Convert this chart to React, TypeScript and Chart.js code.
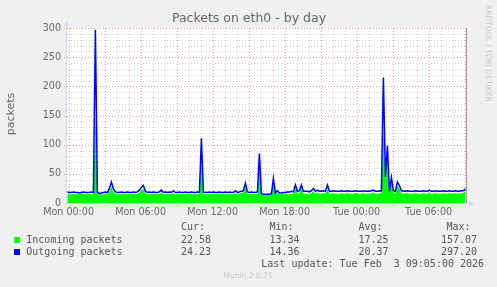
import { useEffect, useRef } from "react";
import { Chart, registerables } from "chart.js";

Chart.register(...registerables);

// ---- data (10-minute samples, packets/s) ----
const startHour = -0.1; // first sample, hours relative to Mon 00:00
const stepHours = 1 / 6;

const outgoing = [
  19, 18, 18, 19, 18, 18, 17, 18, 19, 18,
  18, 18, 19, 18, 297, 19, 16, 17, 18, 19,
  18, 25, 36, 24, 19, 18, 18, 19, 18, 18,
  19, 18, 18, 19, 18, 19, 22, 27, 30, 20,
  18, 19, 18, 19, 18, 18, 19, 22, 18, 19,
  18, 19, 18, 21, 18, 18, 19, 18, 18, 19,
  18, 18, 19, 18, 18, 19, 18, 111, 19, 18,
  18, 19, 18, 19, 18, 18, 19, 18, 18, 19,
  18, 19, 18, 18, 21, 18, 19, 20, 21, 34,
  19, 18, 19, 18, 18, 19, 85, 16, 15, 15,
  15, 15, 16, 42, 17, 21, 17, 17, 18, 18,
  19, 19, 20, 19, 31, 20, 21, 31, 20, 20,
  20, 19, 21, 25, 20, 22, 20, 20, 21, 20,
  31, 20, 20, 21, 20, 20, 20, 21, 20, 20,
  21, 20, 20, 20, 21, 20, 20, 20, 21, 20,
  20, 20, 21, 22, 20, 20, 21, 20, 215, 45,
  98, 20, 44, 21, 20, 36, 30, 21, 20, 20,
  21, 20, 20, 20, 21, 20, 20, 20, 21, 20,
  20, 22, 20, 20, 21, 20, 20, 20, 21, 20,
  20, 21, 20, 20, 21, 20, 20, 21, 21, 24.23,
];

const incoming = [
  16, 15, 15, 16, 15, 15, 15, 16, 16, 15,
  15, 16, 15, 16, 157.07, 16, 14, 15, 15, 16,
  15, 20, 28, 19, 16, 15, 15, 16, 15, 15,
  16, 15, 15, 16, 15, 16, 18, 22, 24, 17,
  15, 16, 15, 16, 15, 15, 16, 18, 15, 16,
  15, 16, 15, 17, 15, 15, 16, 15, 15, 16,
  15, 15, 16, 15, 15, 16, 15, 100, 16, 15,
  15, 16, 15, 16, 15, 15, 16, 15, 15, 16,
  15, 16, 15, 15, 17, 15, 16, 17, 18, 28,
  16, 15, 16, 15, 15, 16, 75, 14, 13.34, 14,
  14, 13.5, 14, 36, 15, 17, 15, 15, 16, 15,
  16, 15, 16, 16, 26, 16, 17, 26, 16, 16,
  16, 15, 17, 20, 16, 18, 16, 16, 17, 16,
  24, 16, 16, 17, 16, 16, 16, 17, 16, 16,
  17, 16, 16, 16, 17, 16, 16, 16, 17, 16,
  16, 16, 17, 18, 16, 16, 17, 16, 130, 40,
  105, 17, 35, 18, 16, 30, 25, 17, 16, 16,
  17, 16, 16, 16, 17, 16, 16, 16, 17, 16,
  16, 18, 16, 16, 17, 16, 16, 16, 17, 16,
  16, 17, 16, 16, 17, 16, 16, 17, 17, 22.58,
];

const xTickHours = [0, 6, 12, 18, 24, 30];
const xTickLabels = ["Mon 00:00", "Mon 06:00", "Mon 12:00", "Mon 18:00", "Tue 00:00", "Tue 06:00"];
const yTickValues = [0, 50, 100, 150, 200, 250, 300];

const seriesNames = ["Incoming packets", "Outgoing packets"];
const seriesColors = ["#00ff00", "#0000ff"];
const curValues = ["22.58", "24.23"];
const minValues = ["13.34", "14.36"];
const avgValues = ["17.25", "20.37"];
const maxValues = ["157.07", "297.20"];

const titleText = "Packets on eth0 - by day";
const yAxisTitle = "packets";
const lastUpdate = "Last update: Tue Feb  3 09:05:00 2026";
const sideText = "RRDTOOL / TOBI OETIKER";
const footerText = "Munin 2.0.75";

const FONT_COLOR = "#666666";
const AXIS_COLOR = "#CFD6F8";

const munin = {
  id: "munin",
  beforeDraw(chart: any) {
    const { ctx, chartArea } = chart;
    ctx.save();
    ctx.fillStyle = "#f0f0f0";
    ctx.fillRect(0, 0, chart.width, chart.height);
    ctx.fillStyle = "#ffffff";
    ctx.fillRect(chartArea.left, chartArea.top, chartArea.right - chartArea.left, chartArea.bottom - chartArea.top);
    ctx.restore();
  },
  beforeDatasetsDraw(chart: any) {
    const { ctx, chartArea } = chart;
    const xs = chart.scales.x;
    const ys = chart.scales.y;
    const { left, right, top, bottom } = chartArea;
    ctx.save();
    ctx.lineWidth = 1;
    ctx.setLineDash([1, 2]);
    // minor grid
    ctx.strokeStyle = "rgba(160,160,160,0.5)";
    ctx.beginPath();
    for (let h = Math.ceil(xs.min); h <= xs.max; h++) {
      if (h % 3 === 0) continue;
      const px = Math.round(xs.getPixelForValue(h)) + 0.5;
      if (px <= left || px >= right) continue;
      ctx.moveTo(px, top);
      ctx.lineTo(px, bottom + 2);
    }
    for (let v = 10; v < ys.max; v += 10) {
      if (v % 50 === 0) continue;
      const py = Math.round(ys.getPixelForValue(v)) + 0.5;
      ctx.moveTo(left - 2, py);
      ctx.lineTo(right, py);
    }
    ctx.stroke();
    // major grid
    ctx.strokeStyle = "rgba(235,140,140,0.85)";
    ctx.beginPath();
    for (let h = Math.ceil(xs.min); h <= xs.max; h++) {
      if (h % 3 !== 0) continue;
      const px = Math.round(xs.getPixelForValue(h)) + 0.5;
      if (px <= left || px >= right) continue;
      ctx.moveTo(px, top);
      ctx.lineTo(px, bottom + 3);
    }
    for (let v = 50; v <= ys.max; v += 50) {
      const py = Math.round(ys.getPixelForValue(v)) + 0.5;
      ctx.moveTo(left - 3, py);
      ctx.lineTo(right, py);
    }
    ctx.stroke();
    ctx.restore();
  },
  afterDatasetsDraw(chart: any) {
    const { ctx, chartArea } = chart;
    const { left, right, top, bottom } = chartArea;
    ctx.save();
    ctx.lineWidth = 1;
    // right frame line
    ctx.strokeStyle = "#9a9a9a";
    ctx.beginPath();
    ctx.moveTo(Math.round(right) - 0.5, top);
    ctx.lineTo(Math.round(right) - 0.5, bottom);
    ctx.stroke();
    // axes
    ctx.strokeStyle = AXIS_COLOR;
    ctx.beginPath();
    ctx.moveTo(left - 0.5, bottom);
    ctx.lineTo(left - 0.5, top - 4);
    ctx.moveTo(left - 3, Math.round(bottom) + 0.5);
    ctx.lineTo(right + 3, Math.round(bottom) + 0.5);
    ctx.stroke();
    // arrows
    ctx.fillStyle = AXIS_COLOR;
    ctx.beginPath();
    ctx.moveTo(left - 3, top - 2);
    ctx.lineTo(left + 2, top - 2);
    ctx.lineTo(left - 0.5, top - 7);
    ctx.closePath();
    ctx.fill();
    ctx.beginPath();
    ctx.moveTo(right + 2, bottom - 2.5);
    ctx.lineTo(right + 2, bottom + 3.5);
    ctx.lineTo(right + 7, bottom + 0.5);
    ctx.closePath();
    ctx.fill();
    ctx.restore();
  },
  afterDraw(chart: any) {
    const { ctx } = chart;
    ctx.save();
    // title
    ctx.fillStyle = FONT_COLOR;
    ctx.font = '12.5px "DejaVu Sans"';
    ctx.textAlign = "center";
    ctx.textBaseline = "middle";
    ctx.fillText(titleText, 249, 18.5);
    // y axis title
    ctx.save();
    ctx.translate(11, 114);
    ctx.rotate(-Math.PI / 2);
    ctx.font = '11px "DejaVu Sans"';
    ctx.fillText(yAxisTitle, 0, 0);
    ctx.restore();
    // side text
    ctx.save();
    ctx.translate(488, 5);
    ctx.rotate(Math.PI / 2);
    ctx.fillStyle = "#c8c8c8";
    ctx.font = '7.5px "DejaVu Sans"';
    ctx.textAlign = "left";
    ctx.fillText(sideText, 0, 0);
    ctx.restore();
    // legend table
    ctx.font = '10px "DejaVu Sans Mono"';
    ctx.textAlign = "left";
    ctx.fillStyle = "#555555";
    ctx.fillText("Cur:", 181, 227.5);
    ctx.fillText("Min:", 269.5, 227.5);
    ctx.fillText("Avg:", 358.5, 227.5);
    ctx.fillText("Max:", 446.5, 227.5);
    const rowY = [240, 252];
    for (let r = 0; r < 2; r++) {
      ctx.fillStyle = seriesColors[r];
      ctx.fillRect(14, rowY[r] - 3, 6, 6);
      ctx.fillStyle = "#555555";
      ctx.fillText(seriesNames[r], 26.3, rowY[r]);
      ctx.fillText(curValues[r], 181, rowY[r]);
      ctx.fillText(minValues[r], 269.5, rowY[r]);
      ctx.fillText(avgValues[r], 358.5, rowY[r]);
      ctx.fillText(maxValues[r], 441, rowY[r]);
    }
    ctx.fillText(lastUpdate, 261.3, 264);
    // footer
    ctx.fillStyle = "#c4c4c4";
    ctx.font = '7.5px "DejaVu Sans"';
    ctx.textAlign = "center";
    ctx.fillText(footerText, 248, 276.5);
    ctx.restore();
  },
};

export default function App() {
  const canvasRef = useRef<HTMLCanvasElement | null>(null);

  useEffect(() => {
    const canvas = canvasRef.current;
    if (!canvas) return;
    const toPoints = (arr: number[]) => arr.map((v, i) => ({ x: startHour + i * stepHours, y: v }));
    const chart = new Chart(canvas, {
      type: "line",
      data: {
        datasets: [
          {
            label: seriesNames[1],
            data: toPoints(outgoing),
            borderColor: seriesColors[1],
            borderWidth: 1.5,
            pointRadius: 0,
            fill: false,
            tension: 0,
            order: 0,
          },
          {
            label: seriesNames[0],
            data: toPoints(incoming),
            borderColor: seriesColors[0],
            backgroundColor: seriesColors[0],
            borderWidth: 0,
            pointRadius: 0,
            fill: "origin",
            tension: 0,
            order: 1,
          },
        ],
      },
      options: {
        animation: false,
        responsive: false,
        devicePixelRatio: 1,
        events: [],
        layout: { padding: { left: 0, right: 30, top: 28, bottom: 0 } },
        plugins: { legend: { display: false }, tooltip: { enabled: false }, title: { display: false } },
        scales: {
          x: {
            type: "linear",
            min: -0.133,
            max: 33.2,
            afterBuildTicks: (s: any) => {
              s.ticks = xTickHours.map((v) => ({ value: v }));
            },
            afterFit: (s: any) => {
              s.height = 84;
            },
            ticks: {
              autoSkip: false,
              maxRotation: 0,
              padding: 3.5,
              color: FONT_COLOR,
              font: { family: "DejaVu Sans", size: 9.6 },
              callback: (v: any) => {
                const idx = xTickHours.indexOf(Number(v));
                return idx >= 0 ? xTickLabels[idx] : "";
              },
            },
            grid: { display: true, drawOnChartArea: false, drawTicks: false, color: "transparent" },
            border: { display: false },
          },
          y: {
            min: 0,
            max: 300,
            afterBuildTicks: (s: any) => {
              s.ticks = yTickValues.map((v) => ({ value: v }));
            },
            afterFit: (s: any) => {
              s.width = 67;
            },
            ticks: {
              padding: 6,
              color: FONT_COLOR,
              font: { family: "DejaVu Sans", size: 9.6 },
            },
            grid: { display: true, drawOnChartArea: false, drawTicks: false, color: "transparent" },
            border: { display: false },
          },
        },
      },
      plugins: [munin],
    });
    return () => chart.destroy();
  }, []);

  return (
    <div style={{ position: "fixed", left: 0, top: 0, width: 497, height: 287, background: "#f0f0f0" }}>
      <canvas ref={canvasRef} width={497} height={287} style={{ width: 497, height: 287, display: "block" }} />
    </div>
  );
}
